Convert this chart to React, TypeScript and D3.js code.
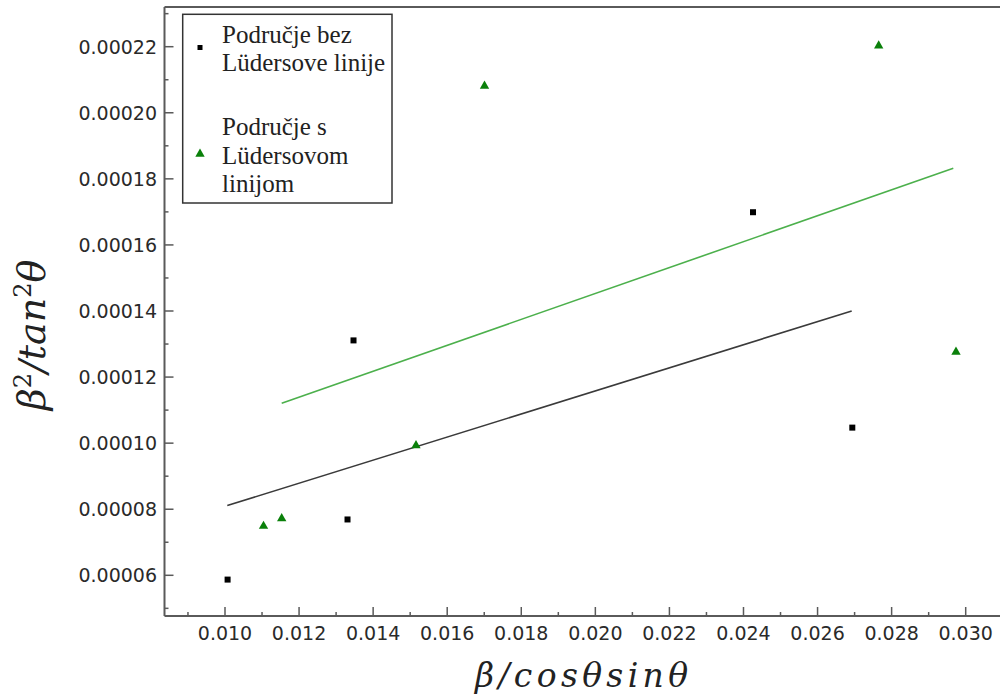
import React from "react";
import * as d3 from "d3";

// Series 1: Područje bez Lüdersove linije (black squares)
const blackX = [0.01007, 0.013308, 0.01347, 0.024257, 0.026938];
const blackY = [0.0000587, 0.0000769, 0.0001311, 0.0001699, 0.0001047];
// Series 2: Područje s Lüdersovom linijom (green triangles)
const greenX = [0.01104, 0.011531, 0.015157, 0.017007, 0.027651, 0.029738];
const greenY = [0.0000749, 0.0000772, 0.0000993, 0.0002081, 0.0002203, 0.0001276];
// Linear fit endpoints
const blackFitX = [0.010062, 0.026922];
const blackFitY = [0.0000811, 0.00014];
const greenFitX = [0.011531, 0.029665];
const greenFitY = [0.0001121, 0.0001832];

const xTicks = [0.01, 0.012, 0.014, 0.016, 0.018, 0.02, 0.022, 0.024, 0.026, 0.028, 0.03];
const xMinor = [0.009, 0.011, 0.013, 0.015, 0.017, 0.019, 0.021, 0.023, 0.025, 0.027, 0.029];
const yTicks = [0.00006, 0.00008, 0.0001, 0.00012, 0.00014, 0.00016, 0.00018, 0.0002, 0.00022];
const yMinor = [0.00005, 0.00007, 0.00009, 0.00011, 0.00013, 0.00015, 0.00017, 0.00019, 0.00021, 0.00023];

const legend1 = ["Područje bez", "Lüdersove linije"];
const legend2 = ["Područje s", "Lüdersovom", "linijom"];

const serif = "'Liberation Serif', 'Times New Roman', Times, serif";

export default function App() {
  const left = 164.5, right = 1000, top = 7, bottom = 616;
  const x = d3.scaleLinear().domain([0.01, 0.03]).range([225, 965.7]);
  const y = d3.scaleLinear().domain([0.00006, 0.00022]).range([575.3, 46.7]);
  const line = d3.line<[number, number]>().x((d) => x(d[0])).y((d) => y(d[1]));
  const tri = d3.symbol().type(d3.symbolTriangle).size(38)();
  const axisColor = "#5a5a5a";
  const tickFont = { fontFamily: "'DejaVu Sans', sans-serif", fontSize: 19, fill: "#2a2a2a" };

  return (
    <svg width={1000} height={698} style={{ position: "absolute", left: 0, top: 0, background: "#fff" }}>
      <rect x={0} y={0} width={1000} height={698} fill="#fff" />
      {/* frame */}
      <line x1={left} x2={right} y1={top} y2={top} stroke={axisColor} strokeWidth={2} />
      <line x1={left} x2={left} y1={top} y2={bottom} stroke={axisColor} strokeWidth={2} />
      <line x1={left} x2={right} y1={bottom} y2={bottom} stroke={axisColor} strokeWidth={2} />
      {/* x ticks */}
      {xTicks.map((t) => (
        <g key={"xt" + t}>
          <line x1={x(t)} x2={x(t)} y1={bottom} y2={bottom - 9} stroke={axisColor} strokeWidth={1.5} />
          <text x={x(t)} y={640} textAnchor="middle" {...tickFont}>{t.toFixed(3)}</text>
        </g>
      ))}
      {xMinor.map((t) => (
        <line key={"xm" + t} x1={x(t)} x2={x(t)} y1={bottom} y2={bottom - 4} stroke={axisColor} strokeWidth={1.5} />
      ))}
      {/* y ticks */}
      {yTicks.map((t) => (
        <g key={"yt" + t}>
          <line x1={left} x2={left + 9} y1={y(t)} y2={y(t)} stroke={axisColor} strokeWidth={1.5} />
          <text x={157} y={y(t) + 7} textAnchor="end" {...tickFont}>{t.toFixed(5)}</text>
        </g>
      ))}
      {yMinor.map((t) => (
        <line key={"ym" + t} x1={left} x2={left + 4} y1={y(t)} y2={y(t)} stroke={axisColor} strokeWidth={1.5} />
      ))}
      {/* fit lines */}
      <path d={line(blackFitX.map((v, i) => [v, blackFitY[i]]) as any) || ""} stroke="#3a3a3a" strokeWidth={1.6} fill="none" />
      <path d={line(greenFitX.map((v, i) => [v, greenFitY[i]]) as any) || ""} stroke="#4cb04c" strokeWidth={1.6} fill="none" />
      {/* points */}
      {blackX.map((v, i) => (
        <rect key={"b" + i} x={x(v) - 3} y={y(blackY[i]) - 3} width={6} height={6} fill="#000" />
      ))}
      {greenX.map((v, i) => (
        <path key={"g" + i} d={tri || ""} transform={`translate(${x(v)},${y(greenY[i])})`} fill="#0a800a" />
      ))}
      {/* legend */}
      <rect x={182.7} y={14.3} width={209.3} height={188.7} fill="#fff" stroke="#333" strokeWidth={1.5} />
      <rect x={197.5} y={45} width={5} height={5} fill="#000" />
      <path d={tri || ""} transform="translate(200,154)" fill="#0a800a" />
      {legend1.map((s, i) => (
        <text key={"l1" + i} x={222} y={43.3 + i * 27.4} fontFamily={serif} fontSize={25} fill="#222">{s}</text>
      ))}
      {legend2.map((s, i) => (
        <text key={"l2" + i} x={222} y={135 + i * 28.5} fontFamily={serif} fontSize={25} fill="#222">{s}</text>
      ))}
      {/* axis titles */}
      <text x={581.5} y={686.7} textAnchor="middle" fontFamily="'DejaVu Serif', serif" fontStyle="italic" fontSize={33} fill="#222" textLength={213} lengthAdjust="spacing">β/cosθsinθ</text>
      <text transform="translate(45,335) rotate(-90)" textAnchor="middle" fontFamily="'DejaVu Serif', serif" fontStyle="italic" fontSize={38} fill="#222">
        <tspan>β</tspan>
        <tspan dy={-14} fontSize={24} fontStyle="normal">2</tspan>
        <tspan dy={14}>/tan</tspan>
        <tspan dy={-14} fontSize={24} fontStyle="normal">2</tspan>
        <tspan dy={14}>θ</tspan>
      </text>
    </svg>
  );
}
